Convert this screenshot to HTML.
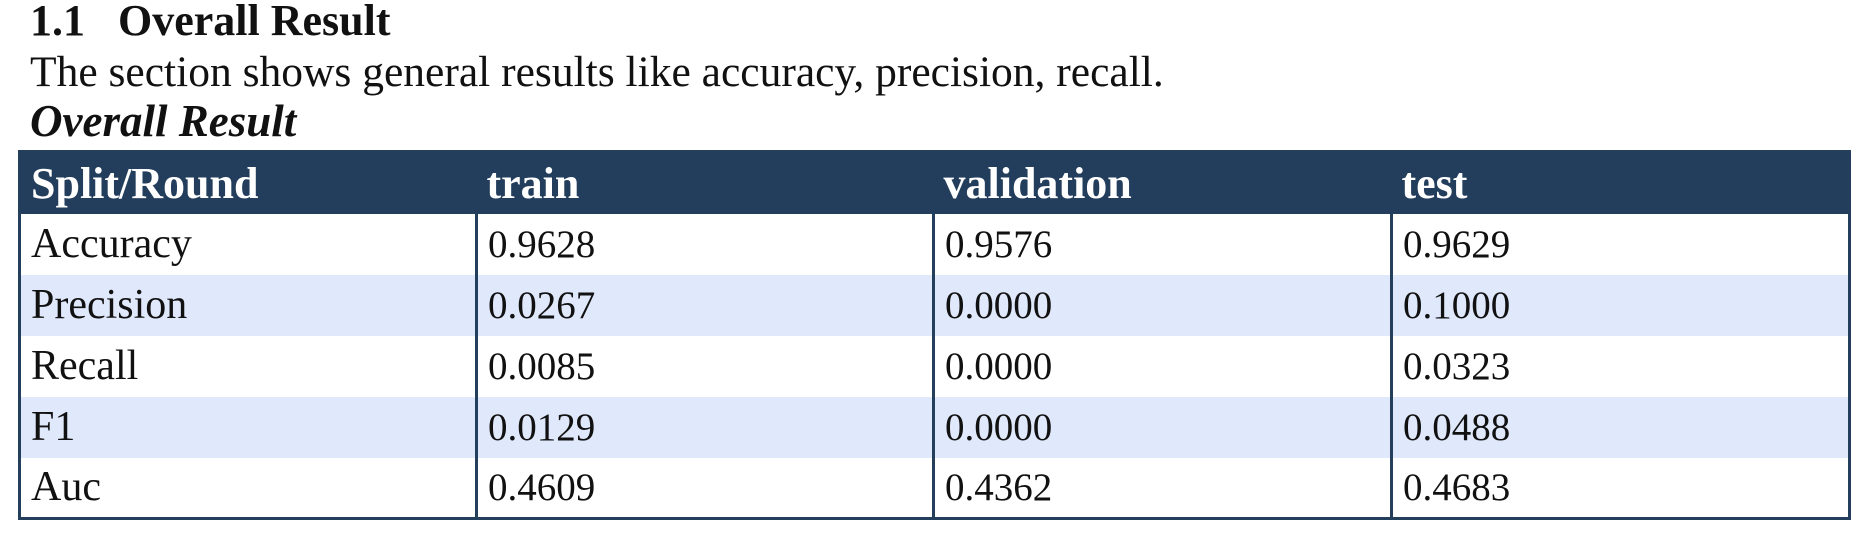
<!DOCTYPE html>
<html><head><meta charset="utf-8"><style>
html,body{margin:0;padding:0;background:#fff;width:1876px;height:542px;overflow:hidden;font-family:"Liberation Serif",serif;color:#111;}
.h{position:absolute;left:30px;top:0px;font-weight:bold;font-size:44px;line-height:42px;white-space:nowrap;}
.p{position:absolute;left:30px;top:50px;font-size:43.5px;line-height:44px;white-space:nowrap;}
.c{position:absolute;left:30px;top:99px;font-size:45px;line-height:44px;font-weight:bold;font-style:italic;white-space:nowrap;}
table{position:absolute;left:18px;top:150px;width:1830px;border-collapse:collapse;border:3px solid #243f5c;table-layout:fixed;}
th,td{text-align:left;padding:0 10px;font-size:39px;height:61px;box-sizing:border-box;white-space:nowrap;}
th{background:#233e5c;color:#fff;font-weight:bold;height:62px;font-size:44px;}
td{border-left:3px solid #243f5c;}
td.l{border-left:none;font-size:42px;}
tr.s td{background:#e0e8fb;}
</style></head><body>
<div class="h">1.1&nbsp;&nbsp;&nbsp;Overall Result</div>
<div class="p">The section shows general results like accuracy, precision, recall.</div>
<div class="c">Overall Result</div>
<table>
<colgroup><col style="width:457px"><col style="width:457px"><col style="width:458px"><col style="width:458px"></colgroup>
<tr><th>Split/Round</th><th>train</th><th>validation</th><th>test</th></tr>
<tr><td class="l">Accuracy</td><td>0.9628</td><td>0.9576</td><td>0.9629</td></tr>
<tr class="s"><td class="l">Precision</td><td>0.0267</td><td>0.0000</td><td>0.1000</td></tr>
<tr><td class="l">Recall</td><td>0.0085</td><td>0.0000</td><td>0.0323</td></tr>
<tr class="s"><td class="l">F1</td><td>0.0129</td><td>0.0000</td><td>0.0488</td></tr>
<tr><td class="l">Auc</td><td>0.4609</td><td>0.4362</td><td>0.4683</td></tr>
</table>
</body></html>
